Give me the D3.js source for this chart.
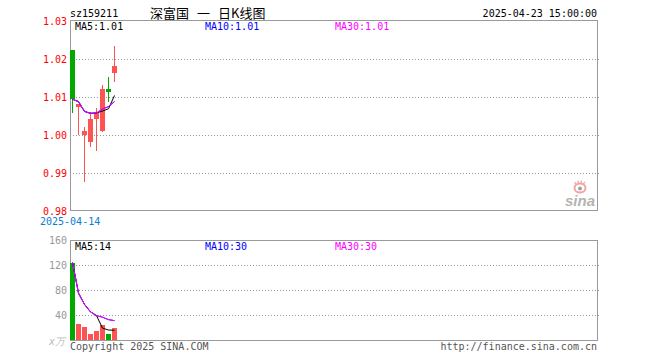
<!DOCTYPE html>
<html>
<head>
<meta charset="utf-8">
<script src="https://cdn.jsdelivr.net/npm/d3@7/dist/d3.min.js"></script>
<style>
html,body{margin:0;padding:0;background:#fff;}
svg{display:block;}
text{font-family:"DejaVu Sans Mono",monospace;font-size:10px;}
</style>
</head>
<body>
<script>
// ---- data ----
const dates = ['2025-04-14','2025-04-15','2025-04-16','2025-04-17','2025-04-18','2025-04-21','2025-04-22','2025-04-23'];
const openP  = [1.0224, 1.0073, 1.0000, 0.9982, 1.0043, 1.0011, 1.0121, 1.0164];
const closeP = [1.0094, 1.0082, 1.0011, 1.0042, 1.0059, 1.0121, 1.0114, 1.0182];
const highP  = [1.0224, 1.0082, 1.0020, 1.0061, 1.0070, 1.0132, 1.0153, 1.0235];
const lowP   = [1.0059, 1.0000, 0.9877, 0.9969, 0.9959, 1.0009, 1.0088, 1.0140];
const ma5P   = [1.0094, 1.0088, 1.0062, 1.0057, 1.0058, 1.0063, 1.0069, 1.0104];
const ma10P  = [1.0094, 1.0088, 1.0062, 1.0057, 1.0058, 1.0068, 1.0075, 1.0088];
const ma30P  = [1.0094, 1.0088, 1.0062, 1.0057, 1.0058, 1.0068, 1.0075, 1.0088];
const volume = [124, 25.6, 21.3, 9.6, 14.9, 24, 9.6, 19.7];
const ma5V   = [124, 75, 57, 45, 39, 19, 16, 15.5];
const ma10V  = [124, 75, 57, 45, 39, 36.5, 32.6, 31];
const ma30V  = [124, 75, 57, 45, 39, 36.5, 32.6, 31];
const priceTicks = [0.98, 0.99, 1.00, 1.01, 1.02, 1.03];
const volTicks = [40, 80, 120, 160];
const titleParts = ['深富国', '一', '日K线图'];
const slots = 88;

const W = 660, H = 360;
const L = 70, R = 598;
const svg = d3.select('body').append('svg').attr('width', W).attr('height', H);

const x = d3.scaleLinear().domain([0, slots]).range([L, R]);
const step = x(1) - x(0);
const bodyW = step - 1;
const yP = d3.scaleLinear().domain([0.98, 1.03]).range([211, 21]);
const yV = d3.scaleLinear().domain([0, 160]).range([340, 240]);
const cx = i => x(i) + Math.floor(bodyW / 2);

const RED = '#ff5252', GREEN = '#00a800';
const colorOf = i => closeP[i] >= openP[i] ? RED : GREEN;

// ---- header ----
svg.append('text').attr('x', 70).attr('y', 17).attr('fill', '#000').text('sz159211');
const titleX = [150, 197, 218];
svg.selectAll('text.title').data(titleParts).enter().append('text')
  .attr('x', (d, i) => titleX[i]).attr('y', 18).attr('fill', '#000')
  .style('font-family', '"Noto Sans CJK SC", sans-serif').style('font-size', '13px')
  .text(d => d);
svg.append('text').attr('x', 597).attr('y', 17).attr('text-anchor', 'end').attr('fill', '#000').text('2025-04-23 15:00:00');

// ---- price panel ----
const gP = svg.append('g');
gP.selectAll('line.grid').data(priceTicks.slice(1, -1)).enter().append('line')
  .attr('x1', L).attr('x2', R + 2)
  .attr('y1', d => Math.round(yP(d)) + 0.5).attr('y2', d => Math.round(yP(d)) + 0.5)
  .attr('stroke', '#999').attr('stroke-dasharray', '1,2');
gP.append('rect').attr('x', L + 0.5).attr('y', yP(1.03) - 0.5).attr('width', R - L - 1).attr('height', yP(0.98) - yP(1.03))
  .attr('fill', 'none').attr('stroke', '#9a9a9a');
gP.selectAll('text.pt').data(priceTicks).enter().append('text')
  .attr('x', 67).attr('y', d => yP(d) + 4).attr('text-anchor', 'end').attr('fill', '#ff0000')
  .text(d => d.toFixed(2));
svg.append('text').attr('x', 40).attr('y', 225).attr('fill', '#0a80d0').text(dates[0]);

// sina logo
const logo = gP.append('g');
logo.append('ellipse').attr('cx', 580).attr('cy', 188).attr('rx', 5.5).attr('ry', 4.5).attr('fill', 'none').attr('stroke', '#f3a3a3').attr('stroke-width', 2);
logo.append('circle').attr('cx', 580).attr('cy', 188.5).attr('r', 2).attr('fill', '#a0a0a0');
logo.selectAll('line.ray').data([-40, -15, 10, 35]).enter().append('line')
  .attr('x1', d => 580 + 6 * Math.sin(d * Math.PI / 180)).attr('y1', d => 188 - 5 * Math.cos(d * Math.PI / 180))
  .attr('x2', d => 580 + 8.5 * Math.sin(d * Math.PI / 180)).attr('y2', d => 188 - 7.5 * Math.cos(d * Math.PI / 180))
  .attr('stroke', '#f3a3a3').attr('stroke-width', 1.3);
logo.append('text').attr('x', 565).attr('y', 206).attr('fill', '#b4b4b4')
  .style('font-family', '"Liberation Sans", Arial, sans-serif').style('font-size', '15px')
  .style('font-weight', 'bold').style('font-style', 'italic').text('sina');

// candles
const idx = d3.range(dates.length);
const candles = gP.append('g').attr('shape-rendering', 'crispEdges');
candles.selectAll('rect.wick').data(idx).enter().append('rect')
  .attr('x', i => cx(i)).attr('width', 1)
  .attr('y', i => Math.round(yP(highP[i])))
  .attr('height', i => Math.max(1, Math.round(yP(lowP[i])) - Math.round(yP(highP[i]))))
  .attr('fill', colorOf);
candles.selectAll('rect.body').data(idx).enter().append('rect')
  .attr('x', i => x(i)).attr('width', bodyW)
  .attr('y', i => Math.round(yP(Math.max(openP[i], closeP[i]))))
  .attr('height', i => Math.max(1, Math.round(yP(Math.min(openP[i], closeP[i]))) - Math.round(yP(Math.max(openP[i], closeP[i])))))
  .attr('fill', colorOf);

const lineP = arr => d3.line().x((d, i) => cx(i) + 0.5).y(d => yP(d))(arr);
[[ma5P, '#000000'], [ma10P, '#0000ff'], [ma30P, '#ff00ff']].forEach(([a, c]) => {
  gP.append('path').attr('d', lineP(a)).attr('fill', 'none').attr('stroke', c).attr('stroke-width', 1);
});

svg.append('text').attr('x', 75).attr('y', 30).attr('fill', '#000').text('MA5:' + ma5P[ma5P.length - 1].toFixed(2));
svg.append('text').attr('x', 205).attr('y', 30).attr('fill', '#0000ff').text('MA10:' + ma10P[ma10P.length - 1].toFixed(2));
svg.append('text').attr('x', 335).attr('y', 30).attr('fill', '#ff00ff').text('MA30:' + ma30P[ma30P.length - 1].toFixed(2));

// ---- volume panel ----
const gV = svg.append('g');
gV.selectAll('line.grid').data(volTicks.slice(0, -1)).enter().append('line')
  .attr('x1', L).attr('x2', R + 2)
  .attr('y1', d => Math.round(yV(d)) + 0.5).attr('y2', d => Math.round(yV(d)) + 0.5)
  .attr('stroke', '#999').attr('stroke-dasharray', '1,2');
gV.append('rect').attr('x', L + 0.5).attr('y', yV(160) + 0.5).attr('width', R - L - 1).attr('height', yV(0) - yV(160))
  .attr('fill', 'none').attr('stroke', '#9a9a9a');
gV.selectAll('text.vt').data(volTicks).enter().append('text')
  .attr('x', 67).attr('y', d => yV(d) + 4).attr('text-anchor', 'end').attr('fill', '#999')
  .text(d => d);
svg.append('text').attr('x', 49).attr('y', 345).attr('fill', '#bbb').style('font-style', 'italic').text('x万');

gV.append('g').attr('shape-rendering', 'crispEdges').selectAll('rect').data(idx).enter().append('rect')
  .attr('x', i => x(i)).attr('width', bodyW)
  .attr('y', i => Math.round(yV(volume[i])))
  .attr('height', i => yV(0) - Math.round(yV(volume[i])))
  .attr('fill', colorOf);

const lineV = arr => d3.line().x((d, i) => cx(i) + 0.5).y(d => yV(d))(arr);
[[ma5V, '#000000'], [ma10V, '#0000ff'], [ma30V, '#ff00ff']].forEach(([a, c]) => {
  gV.append('path').attr('d', lineV(a)).attr('fill', 'none').attr('stroke', c).attr('stroke-width', 1);
});

svg.append('text').attr('x', 75).attr('y', 250).attr('fill', '#000').text('MA5:14');
svg.append('text').attr('x', 205).attr('y', 250).attr('fill', '#0000ff').text('MA10:30');
svg.append('text').attr('x', 335).attr('y', 250).attr('fill', '#ff00ff').text('MA30:30');

// footer
svg.append('text').attr('x', 70).attr('y', 350).attr('fill', '#555').text('Copyright 2025 SINA.COM');
svg.append('text').attr('x', 597).attr('y', 350).attr('text-anchor', 'end').attr('fill', '#555').text('http://finance.sina.com.cn');
</script>
</body>
</html>
